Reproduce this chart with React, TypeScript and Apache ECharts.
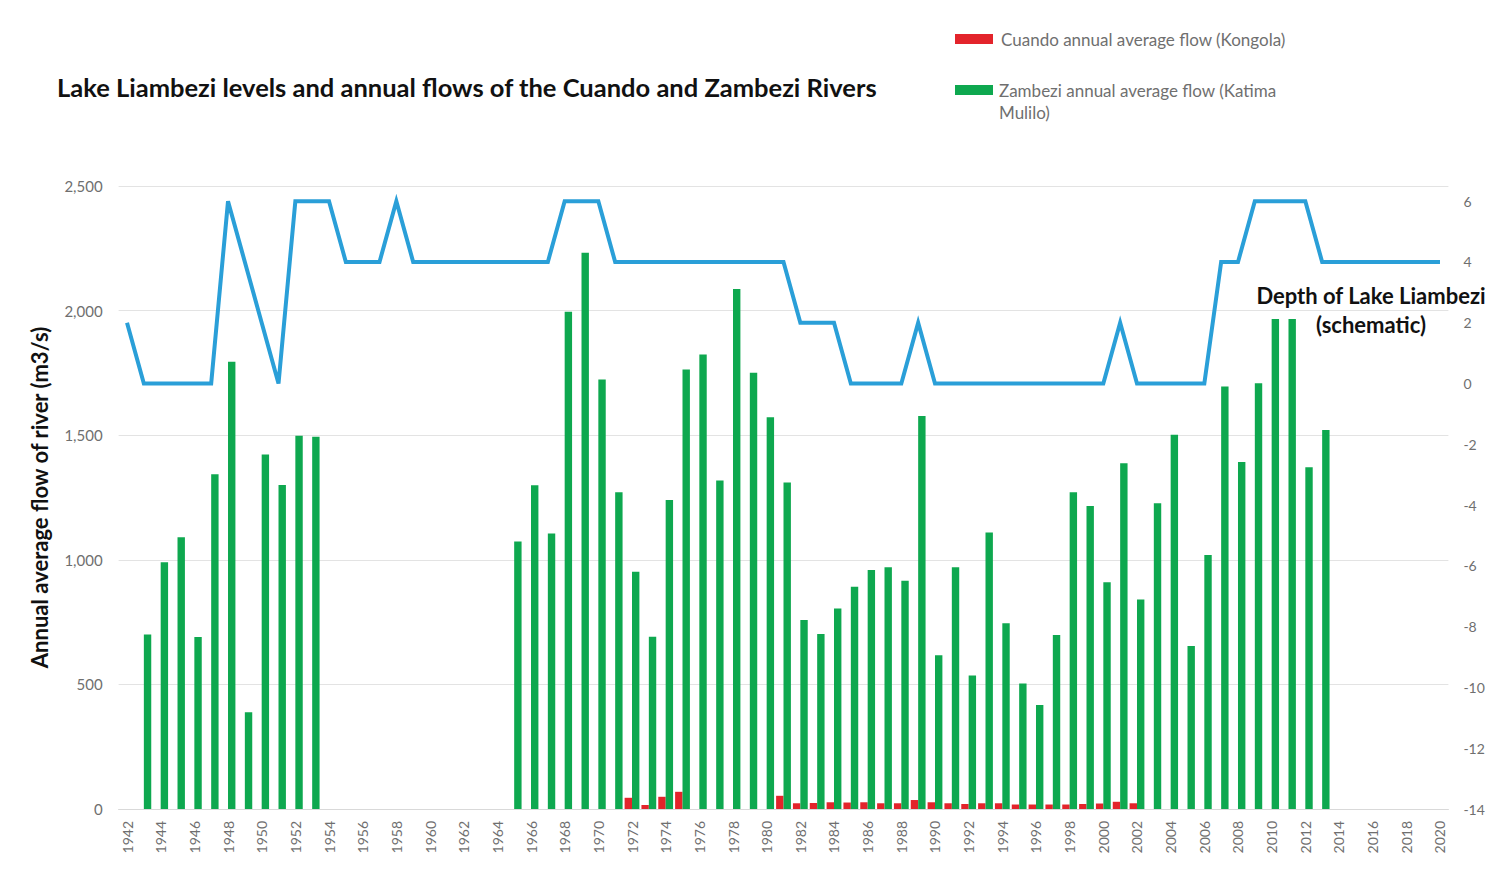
import React, { useEffect, useRef } from "react";
import * as echarts from "echarts";

const years: string[] = [
  "1942","1943","1944","1945","1946","1947","1948","1949","1950","1951",
  "1952","1953","1954","1955","1956","1957","1958","1959","1960","1961",
  "1962","1963","1964","1965","1966","1967","1968","1969","1970","1971",
  "1972","1973","1974","1975","1976","1977","1978","1979","1980","1981",
  "1982","1983","1984","1985","1986","1987","1988","1989","1990","1991",
  "1992","1993","1994","1995","1996","1997","1998","1999","2000","2001",
  "2002","2003","2004","2005","2006","2007","2008","2009","2010","2011",
  "2012","2013","2014","2015","2016","2017","2018","2019","2020",
];

const _ = null;

// Zambezi annual average flow (Katima Mulilo), m3/s
const zambeziFlow: (number | null)[] = [
  _, 700, 990, 1090, 690, 1343, 1795, 388, 1423, 1300,
  1498, 1494, _, _, _, _, _, _, _, _,
  _, _, _, 1073, 1299, 1106, 1995, 2232, 1724, 1271,
  952, 691, 1240, 1764, 1824, 1318, 2087, 1751, 1572, 1310,
  758, 702, 805, 892, 959, 970, 916, 1577, 617, 970,
  536, 1110, 745, 504, 417, 698, 1271, 1216, 910, 1387,
  841, 1227, 1502, 654, 1019, 1695, 1392, 1708, 1966, 1966,
  1371, 1521, _, _, _, _, _, _, _,
];

// Cuando annual average flow (Kongola), m3/s
const cuandoFlow: (number | null)[] = [
  _, _, _, _, _, _, _, _, _, _,
  _, _, _, _, _, _, _, _, _, _,
  _, _, _, _, _, _, _, _, _, _,
  45, 16, 49, 69, _, _, _, _, _, 53,
  23, 24, 27, 26, 27, 23, 23, 36, 27, 23,
  20, 23, 23, 18, 18, 18, 18, 20, 22, 29,
  23, _, _, _, _, _, _, _, _, _,
  _, _, _, _, _, _, _, _, _,
];

// Depth of Lake Liambezi (schematic)
const lakeDepth: number[] = [
  2, 0, 0, 0, 0, 0, 6, 4, 2, 0,
  6, 6, 6, 4, 4, 4, 6, 4, 4, 4,
  4, 4, 4, 4, 4, 4, 6, 6, 6, 4,
  4, 4, 4, 4, 4, 4, 4, 4, 4, 4,
  2, 2, 2, 0, 0, 0, 0, 2, 0, 0,
  0, 0, 0, 0, 0, 0, 0, 0, 0, 2,
  0, 0, 0, 0, 0, 4, 4, 6, 6, 6,
  6, 4, 4, 4, 4, 4, 4, 4, 4,
];

const titleText = "Lake Liambezi levels and annual flows of the Cuando and Zambezi Rivers";
const leftAxisName = "Annual average flow of river (m3/s)";
const rightAxisName = "Depth of Lake Liambezi\n(schematic)";
const cuandoName = "Cuando annual average flow (Kongola)";
const zambeziName = "Zambezi annual average flow (Katima\nMulilo)";

const FONT = "Lato";
const RED = "#e3242b";
const GREEN = "#0ea84f";
const BLUE = "#2a9fd8";
const GRAY_TXT = "#6f6f6f";

export default function App() {
  const ref = useRef<HTMLDivElement>(null);

  useEffect(() => {
    document.body.style.margin = "0";
    if (!ref.current) return;
    const chart = echarts.init(ref.current, undefined, { renderer: "svg" });
    chart.setOption({
      animation: false,
      backgroundColor: "#ffffff",
      title: {
        text: titleText,
        left: 57,
        top: 74,
        padding: 0,
        textStyle: { fontFamily: FONT, fontSize: 25.5, fontWeight: "bold", color: "#111" },
      },
      grid: { left: 118.6, right: 48.6, top: 186, bottom: 60, containLabel: false },
      xAxis: {
        type: "category",
        data: years,
        boundaryGap: true,
        axisLine: { show: true, lineStyle: { color: "#d9d9d9", width: 1 } },
        axisTick: { show: false },
        axisLabel: {
          interval: 1,
          rotate: 90,
          margin: 12,
          fontFamily: FONT,
          fontSize: 14,
          color: GRAY_TXT,
        },
        splitLine: { show: false },
      },
      yAxis: [
        {
          type: "value",
          min: 0,
          max: 2500,
          interval: 500,
          name: leftAxisName,
          nameLocation: "middle",
          nameGap: 68,
          nameTextStyle: { fontFamily: FONT, fontSize: 22, fontWeight: "bold", color: "#111" },
          axisLine: { show: false },
          axisTick: { show: false },
          axisLabel: {
            margin: 16,
            fontFamily: FONT,
            fontSize: 15,
            color: GRAY_TXT,
            formatter: (v: number) => v.toLocaleString("en-US"),
          },
          splitLine: { show: true, lineStyle: { color: "#e3e3e3", width: 1 } },
        },
        {
          type: "value",
          min: -14,
          max: 6.5,
          interval: 2,
          position: "right",
          axisLine: { show: false },
          axisTick: { show: false },
          axisLabel: {
            margin: 15,
            showMaxLabel: false,
            fontFamily: FONT,
            fontSize: 14,
            color: GRAY_TXT,
            formatter: (v: number) => (Number.isInteger(v) ? String(v) : ""),
          },
          splitLine: { show: false },
        },
      ],
      series: [
        {
          name: cuandoName,
          type: "bar",
          data: cuandoFlow,
          barWidth: 7.4,
          barGap: "0%",
          itemStyle: { color: RED },
        },
        {
          name: zambeziName,
          type: "bar",
          data: zambeziFlow,
          barWidth: 7.4,
          barGap: "0%",
          itemStyle: { color: GREEN },
        },
        {
          name: "Depth of Lake Liambezi (schematic)",
          type: "line",
          yAxisIndex: 1,
          data: lakeDepth,
          symbol: "none",
          lineStyle: { color: BLUE, width: 4, join: "miter" },
          z: 5,
        },
      ],
      graphic: [
        { type: "rect", shape: { x: 955, y: 34, width: 38, height: 10 }, style: { fill: RED } },
        {
          type: "text",
          x: 1001,
          y: 39,
          style: {
            text: cuandoName,
            fontFamily: FONT,
            fontSize: 17,
            fill: GRAY_TXT,
            textVerticalAlign: "middle",
          },
        },
        { type: "rect", shape: { x: 955, y: 85, width: 38, height: 10 }, style: { fill: GREEN } },
        {
          type: "text",
          x: 999,
          y: 79,
          style: {
            text: zambeziName,
            fontFamily: FONT,
            fontSize: 17,
            lineHeight: 22,
            fill: GRAY_TXT,
            textVerticalAlign: "top",
          },
        },
        {
          type: "text",
          x: 1371,
          y: 281,
          style: {
            text: rightAxisName,
            fontFamily: FONT,
            fontSize: 22,
            fontWeight: "bold",
            lineHeight: 29,
            fill: "#111",
            textAlign: "center",
            textVerticalAlign: "top",
          },
        },
      ],
    });
    return () => chart.dispose();
  }, []);

  return <div ref={ref} style={{ width: 1497, height: 869 }} />;
}
